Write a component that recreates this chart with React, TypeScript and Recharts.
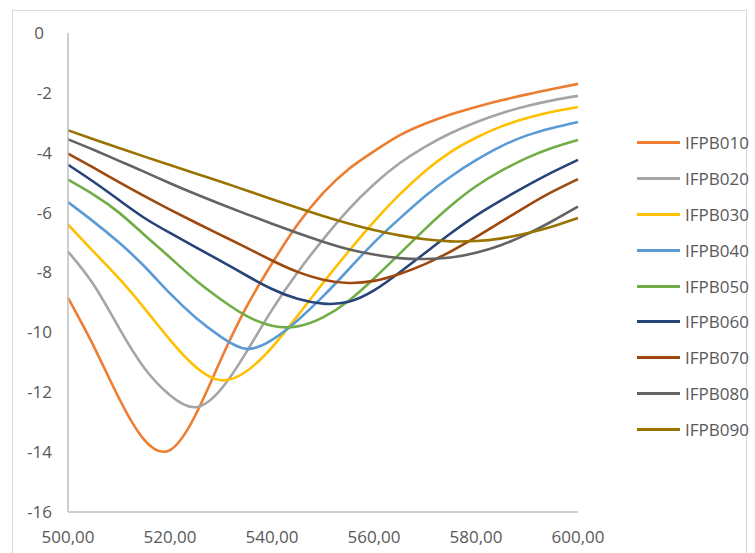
import React from 'react';
import { LineChart, Line, XAxis, YAxis } from 'recharts';

// wavelength (x) samples
const X = [500, 505, 510, 515, 520, 525, 530, 535, 540, 545, 550, 555, 560, 565, 570, 575, 580, 585, 590, 595, 600];

const IFPB010 = [-8.85, -10.45, -12.2, -13.6, -13.93, -12.76, -10.9, -9.15, -7.7, -6.4, -5.35, -4.55, -3.95, -3.42, -3.03, -2.72, -2.47, -2.25, -2.05, -1.87, -1.7];
const IFPB020 = [-7.3, -8.4, -9.85, -11.2, -12.1, -12.5, -11.9, -10.65, -9.25, -8.0, -6.9, -5.9, -5.05, -4.35, -3.8, -3.35, -2.98, -2.68, -2.44, -2.25, -2.1];
const IFPB030 = [-6.4, -7.3, -8.2, -9.2, -10.25, -11.15, -11.6, -11.3, -10.5, -9.45, -8.35, -7.3, -6.3, -5.4, -4.62, -3.98, -3.5, -3.12, -2.84, -2.63, -2.47];
const IFPB040 = [-5.65, -6.3, -7.0, -7.8, -8.7, -9.5, -10.15, -10.55, -10.25, -9.6, -8.8, -7.9, -7.0, -6.2, -5.45, -4.8, -4.25, -3.78, -3.42, -3.17, -2.97];
const IFPB050 = [-4.9, -5.4, -6.0, -6.75, -7.5, -8.25, -8.9, -9.45, -9.78, -9.8, -9.5, -8.95, -8.2, -7.38, -6.55, -5.78, -5.12, -4.6, -4.17, -3.83, -3.57];
const IFPB060 = [-4.4, -4.97, -5.58, -6.18, -6.68, -7.15, -7.62, -8.1, -8.55, -8.88, -9.04, -8.98, -8.6, -8.0, -7.35, -6.7, -6.1, -5.58, -5.1, -4.65, -4.24];
const IFPB070 = [-4.03, -4.5, -4.98, -5.45, -5.9, -6.33, -6.75, -7.17, -7.6, -7.98, -8.24, -8.35, -8.28, -8.05, -7.72, -7.3, -6.82, -6.3, -5.78, -5.3, -4.88];
const IFPB080 = [-3.55, -3.9, -4.27, -4.64, -5.02, -5.38, -5.72, -6.05, -6.37, -6.68, -6.97, -7.22, -7.4, -7.52, -7.55, -7.5, -7.34, -7.08, -6.72, -6.28, -5.8];
const IFPB090 = [-3.25, -3.55, -3.84, -4.13, -4.41, -4.69, -4.97, -5.26, -5.55, -5.84, -6.11, -6.36, -6.58, -6.76, -6.89, -6.96, -6.95, -6.86, -6.69, -6.46, -6.18];

const SERIES_NAMES = ['IFPB010', 'IFPB020', 'IFPB030', 'IFPB040', 'IFPB050', 'IFPB060', 'IFPB070', 'IFPB080', 'IFPB090'];
const SERIES_VALUES = [IFPB010, IFPB020, IFPB030, IFPB040, IFPB050, IFPB060, IFPB070, IFPB080, IFPB090];
const COLORS = ['#ED7D31', '#A5A5A5', '#FFC000', '#5B9BD5', '#70AD47', '#264478', '#9E480E', '#636363', '#997300'];

const X_TICKS = [500, 520, 540, 560, 580, 600];
const Y_TICKS = [-16, -14, -12, -10, -8, -6, -4, -2, 0];

const FONT = '"Open Sans", "Liberation Sans", sans-serif';
const TEXT = '#595959';
const AXIS = '#BFBFBF';

const data = X.map((x, i) => {
  const row: Record<string, number> = { x };
  SERIES_NAMES.forEach((name, s) => {
    row[name] = SERIES_VALUES[s][i];
  });
  return row;
});

const YTick = (props: any) => {
  const { x, y, payload } = props;
  // zero has a trailing space in the excel number format
  const shift = payload.value === 0 ? 8 : 0;
  return (
    <text x={x - shift} y={y} dy="0.35em" textAnchor="end" fill={TEXT} fontSize={17} fontFamily={FONT}>
      {payload.value}
    </text>
  );
};

const XTick = (props: any) => {
  const { x, y, payload } = props;
  return (
    <text x={x} y={y} dy="0.35em" textAnchor="middle" fill={TEXT} fontSize={17} fontFamily={FONT}>
      {payload.value.toFixed(2).replace('.', ',')}
    </text>
  );
};

const ChartLegend = () => (
  <div style={{ position: 'absolute', left: 637, top: 125, fontFamily: FONT, fontSize: 17, color: TEXT }}>
    {SERIES_NAMES.map((name, i) => (
      <div key={name} style={{ height: 35.8, display: 'flex', alignItems: 'center' }}>
        <div style={{ width: 43, height: 3, background: COLORS[i], marginRight: 5 }} />
        <span>{name}</span>
      </div>
    ))}
  </div>
);

export default function App() {
  return (
    <div style={{ position: 'fixed', left: 0, top: 0, width: 755, height: 553, overflow: 'hidden', background: '#fff' }}>
      <div style={{ position: 'absolute', left: 12, top: 10, width: 733, height: 560, border: '1px solid #D9D9D9' }} />
      <div style={{ position: 'absolute', left: 0, top: 0 }}>
        <LineChart width={755} height={553} data={data} margin={{ top: 33, right: 177, bottom: 11, left: 0 }}>
          <XAxis
            dataKey="x"
            type="number"
            domain={[500, 600]}
            ticks={X_TICKS}
            stroke={AXIS}
            strokeWidth={1.5}
            tickLine={false}
            tickSize={0}
            tickMargin={25}
            height={30}
            tick={<XTick />}
          />
          <YAxis
            type="number"
            domain={[-16, 0]}
            ticks={Y_TICKS}
            stroke={AXIS}
            strokeWidth={1.5}
            tickLine={false}
            tickSize={0}
            tickMargin={16}
            width={68}
            tick={<YTick />}
          />
          {SERIES_NAMES.map((name, i) => (
            <Line
              key={name}
              type="natural"
              dataKey={name}
              stroke={COLORS[i]}
              strokeWidth={2.6}
              dot={false}
              activeDot={false}
              isAnimationActive={false}
            />
          ))}
        </LineChart>
      </div>
      <ChartLegend />
    </div>
  );
}
